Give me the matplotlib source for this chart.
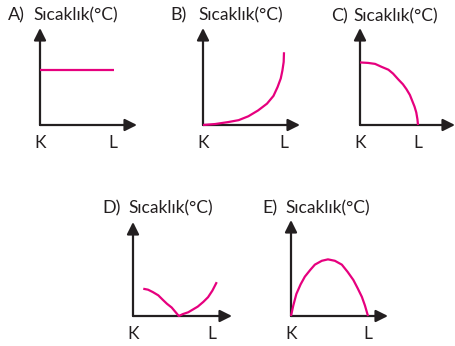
import matplotlib
matplotlib.use("Agg")
import matplotlib.pyplot as plt

W, H = 456, 346

# option letters and the y-axis caption
letters = ["A)", "B)", "C)", "D)", "E)"]
ylabel = "Sıcaklık(°C)"
xlabels = ["K", "L"]

# curves, x: K=0 .. L=1, y: 0 .. top of arrow = 1
a_x = [0.0, 1.01]
a_y = [0.57, 0.57]

b_x = [0.0, 0.15, 0.31, 0.44, 0.56, 0.68, 0.79, 0.87, 0.92, 0.96, 0.98, 0.996, 1.0]
b_y = [0.0, 0.01, 0.03, 0.05, 0.09, 0.15, 0.22, 0.30, 0.39, 0.48, 0.56, 0.65, 0.75]

c_x = [0.0, 0.14, 0.26, 0.37, 0.49, 0.57, 0.66, 0.74, 0.80, 0.86, 0.90, 0.94,
       0.97, 0.99, 1.0]
c_y = [0.645, 0.64, 0.63, 0.60, 0.57, 0.53, 0.47, 0.42, 0.37, 0.31, 0.25, 0.19,
       0.13, 0.06, 0.0]

d_x = [0.13, 0.19, 0.25, 0.32, 0.38, 0.43, 0.49, 0.54, 0.58,
       0.63, 0.70, 0.76, 0.82, 0.89, 0.95, 1.005, 1.06]
d_y = [0.29, 0.28, 0.255, 0.22, 0.17, 0.13, 0.09, 0.04, 0.0,
       0.02, 0.04, 0.07, 0.10, 0.15, 0.20, 0.27, 0.36]

e_x = [0.0, 0.03, 0.07, 0.125, 0.18, 0.25, 0.31, 0.40, 0.48, 0.57, 0.66,
       0.735, 0.81, 0.865, 0.92, 0.96, 1.0]
e_y = [0.0, 0.11, 0.23, 0.33, 0.41, 0.48, 0.535, 0.575, 0.59, 0.575, 0.535,
       0.46, 0.375, 0.29, 0.20, 0.11, 0.0]

curves = [(a_x, a_y), (b_x, b_y), (c_x, c_y), (d_x, d_y), (e_x, e_y)]

# panel boxes in pixels: y-axis x, arrow end x, arrow top y, origin y, K-L px
boxes = [
    (40, 137, 28, 125, 73),
    (203, 300, 28, 125, 81),
    (360, 455, 28, 125, 58),
    (133, 232, 222, 316, 79),
    (291, 388, 220, 316, 77),
]
# title positions (letter x, caption x, centre y)
titles = [
    (8, 33, 15),
    (170, 198, 15),
    (331, 353, 16),
    (102, 128, 208),
    (262, 285, 208),
]

ink = "#231f20"
pink = "#e6007e"
font = "Lato"

fig = plt.figure(figsize=(W / 100, H / 100), dpi=100)

for (cx, cy), (x0, x1, y0, y1, unit) in zip(curves, boxes):
    ax = fig.add_axes([x0 / W, (H - y1) / H, (x1 - x0) / W, (y1 - y0) / H])
    ax.set_xlim(0, (x1 - x0) / unit)
    ax.set_ylim(0, 1)
    for s in ax.spines.values():
        s.set_visible(False)
    ax.set_yticks([])
    ax.set_xticks([0, 1], xlabels, fontsize=12.5, family=font, color=ink)
    ax.tick_params(axis="x", length=0, pad=7)
    ax.patch.set_alpha(0)
    arrow = dict(arrowstyle="-|>", color=ink, lw=1.6, shrinkA=0, shrinkB=0,
                 mutation_scale=18)
    ax.annotate("", xy=(0, 1), xytext=(0, 0), xycoords="axes fraction",
                arrowprops=arrow)
    ax.annotate("", xy=(1, 0), xytext=(0, 0), xycoords="axes fraction",
                arrowprops=arrow)
    ax.plot(cx, cy, color=pink, lw=1.6, clip_on=False,
            solid_joinstyle="round", solid_capstyle="butt", zorder=3)

for let, (lx, cx, ty) in zip(letters, titles):
    fig.text(lx / W, (H - ty) / H, let, fontsize=13, family=font,
             color=ink, ha="left", va="center")
    fig.text(cx / W, (H - ty) / H, ylabel, fontsize=12.5, family=font,
             color=ink, ha="left", va="center")

fig.savefig("out.png", dpi=100)
